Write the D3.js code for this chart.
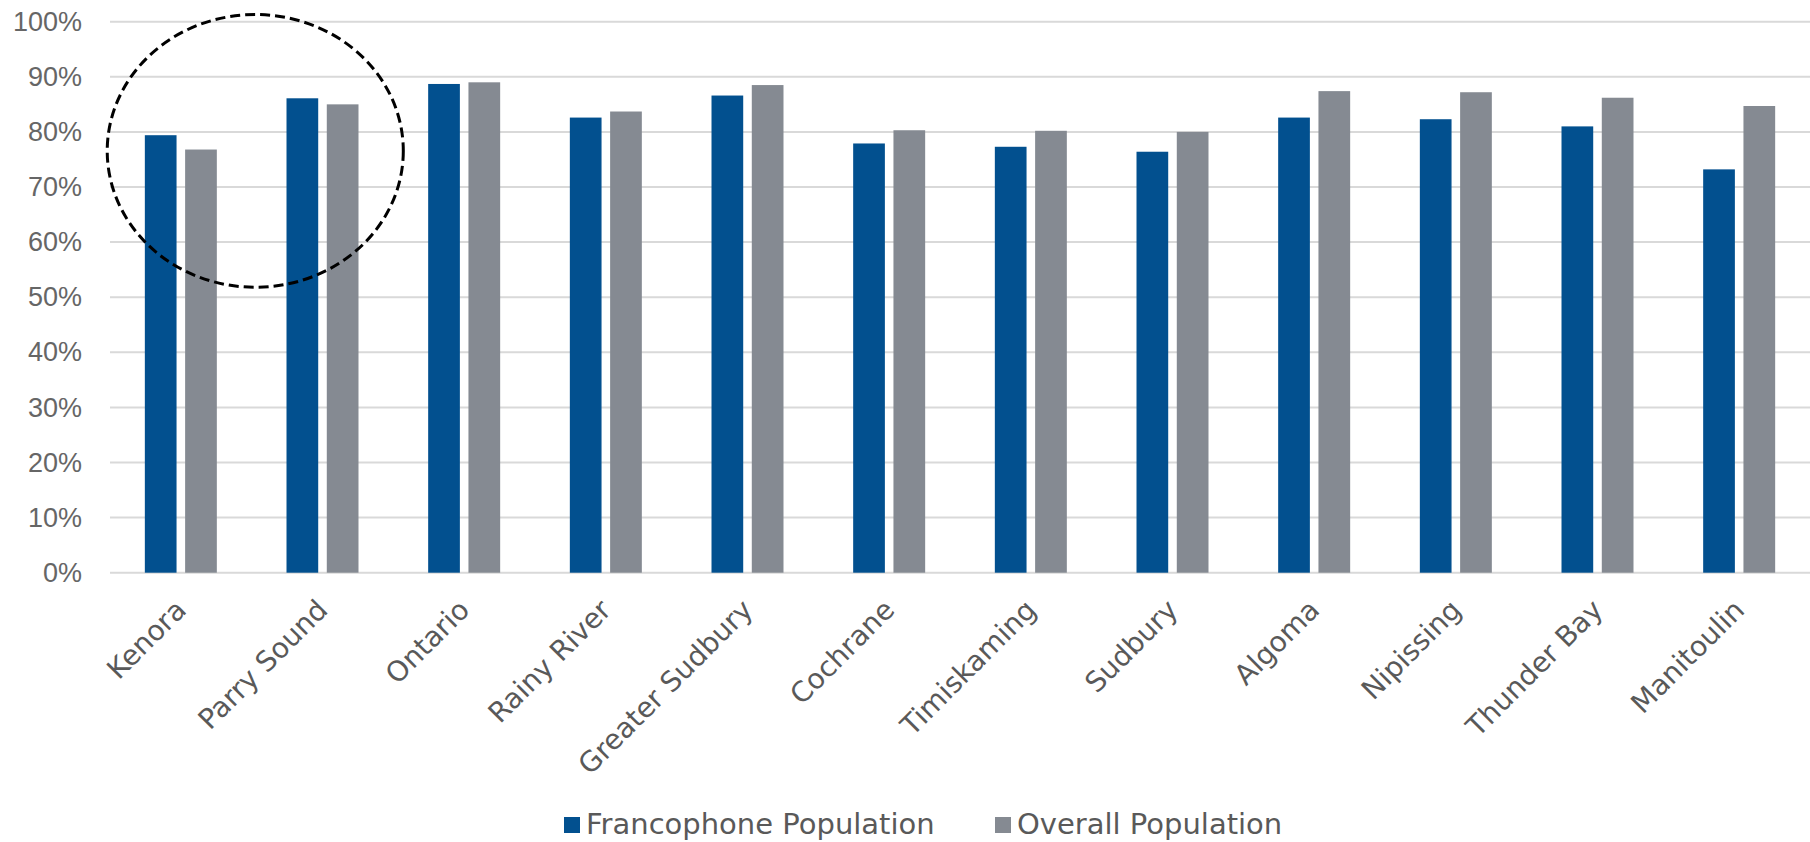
<!DOCTYPE html>
<html>
<head>
<meta charset="utf-8">
<script src="https://cdn.jsdelivr.net/npm/d3@7"></script>
<style>
  html, body { margin: 0; padding: 0; background: #ffffff; }
  svg { display: block; }
</style>
</head>
<body>
<svg id="chart" width="1810" height="842"></svg>
<script>
// ---- Data ----
const categories = ["Kenora", "Parry Sound", "Ontario", "Rainy River", "Greater Sudbury", "Cochrane",
  "Timiskaming", "Sudbury", "Algoma", "Nipissing", "Thunder Bay", "Manitoulin"];
const francophone = [0.794, 0.861, 0.887, 0.826, 0.866, 0.779, 0.773, 0.764, 0.826, 0.823, 0.810, 0.732];
const overall     = [0.768, 0.850, 0.890, 0.837, 0.885, 0.803, 0.802, 0.800, 0.874, 0.872, 0.862, 0.847];
const seriesNames = ["Francophone Population", "Overall Population"];
const seriesColors = ["#02508F", "#858A92"];
const yTicks = [0, 0.1, 0.2, 0.3, 0.4, 0.5, 0.6, 0.7, 0.8, 0.9, 1.0];
// highlighted region (annotation): between first two categories
const highlightCats = ["Kenora", "Parry Sound"];
const highlightY = [0.518, 1.013];

// ---- Layout ----
const svg = d3.select("#chart");
const plot = { left: 110, right: 1810, top: 21.7, bottom: 572.7 };

const x = d3.scaleBand().domain(categories).range([plot.left, plot.right])
  .paddingInner(0.4918).paddingOuter(0.2459);
const xs = d3.scaleBand().domain(seriesNames).range([0, x.bandwidth()]).paddingInner(0.213);
const y = d3.scaleLinear().domain([0, 1]).range([plot.bottom, plot.top]);

// gridlines
svg.append("g").selectAll("line").data(yTicks).join("line")
  .attr("x1", plot.left).attr("x2", plot.right)
  .attr("y1", d => y(d)).attr("y2", d => y(d))
  .attr("stroke", "#d9d9d9").attr("stroke-width", 2);

// y axis labels
const yAxis = d3.axisLeft(y).tickValues(yTicks).tickFormat(d3.format(".0%")).tickSize(0).tickPadding(0);
const yg = svg.append("g").attr("transform", `translate(${plot.left - 28},0)`).call(yAxis);
yg.select(".domain").remove();
yg.selectAll("text")
  .attr("fill", "#666666")
  .style("font-family", "'Liberation Sans', Arial, sans-serif")
  .style("font-size", "27px");

// bars
const rows = categories.map((c, i) => ({ cat: c, vals: [francophone[i], overall[i]] }));
const groups = svg.append("g").selectAll("g").data(rows).join("g")
  .attr("transform", d => `translate(${x(d.cat)},0)`);
groups.selectAll("rect")
  .data(d => d.vals.map((v, k) => ({ series: seriesNames[k], v, k })))
  .join("rect")
  .attr("x", d => xs(d.series))
  .attr("width", xs.bandwidth())
  .attr("y", d => y(d.v))
  .attr("height", d => y(0) - y(d.v))
  .attr("fill", d => seriesColors[d.k]);

// x axis labels
const xAxis = d3.axisBottom(x).tickSize(0).tickPadding(0);
const xg = svg.append("g").attr("transform", `translate(0,${plot.bottom + 32})`).call(xAxis);
xg.select(".domain").remove();
xg.selectAll("text")
  .attr("fill", "#595959")
  .style("font-family", "'DejaVu Sans', sans-serif")
  .style("font-size", "28px")
  .attr("text-anchor", "end")
  .attr("y", 0).attr("dy", "0.35em")
  .attr("transform", "rotate(-45)");

// highlight ellipse (dashed)
const c0 = x(highlightCats[0]) + x.bandwidth() / 2;
const c1 = x(highlightCats[1]) + x.bandwidth() / 2;
svg.append("ellipse")
  .attr("cx", (c0 + c1) / 2 + 3.6)
  .attr("cy", (y(highlightY[0]) + y(highlightY[1])) / 2)
  .attr("rx", (c1 - c0) * 1.045)
  .attr("ry", (y(highlightY[0]) - y(highlightY[1])) / 2)
  .attr("fill", "none")
  .attr("stroke", "#000")
  .attr("stroke-width", 3)
  .attr("stroke-dasharray", "10 5");

// legend
const legendX = [564, 995];
const lg = svg.append("g").selectAll("g").data(seriesNames).join("g")
  .attr("transform", (d, i) => `translate(${legendX[i]},817)`);
lg.append("rect").attr("width", 16).attr("height", 16)
  .attr("fill", (d, i) => seriesColors[i]);
lg.append("text").attr("x", 22).attr("y", 17)
  .attr("fill", "#595959")
  .style("font-family", "'DejaVu Sans', sans-serif")
  .style("font-size", "29px")
  .text(d => d);
</script>
</body>
</html>
